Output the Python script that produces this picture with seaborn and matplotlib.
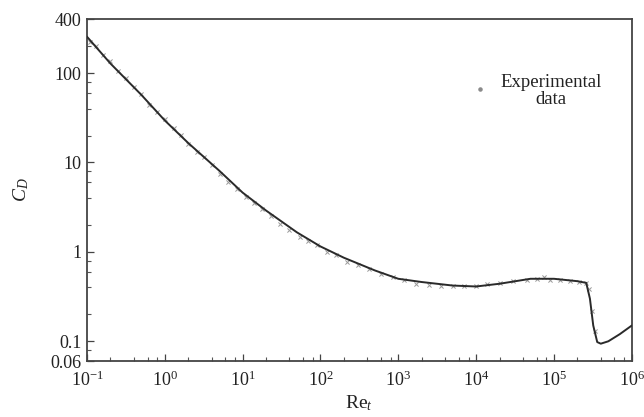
import numpy as np
import pandas as pd
import matplotlib
matplotlib.use("Agg")
import matplotlib.pyplot as plt
import matplotlib.ticker as mticker
import seaborn as sns

# Standard drag curve for a sphere: Reynolds number vs drag coefficient
re_curve = [0.1, 0.2, 0.5, 1, 2, 5, 10, 20, 50, 100, 200, 500, 1000, 2000,
            5000, 1e4, 2e4, 5e4, 1e5, 2e5, 2.6e5, 2.9e5, 3.2e5, 3.6e5, 4e5,
            5e5, 7e5, 1e6]
cd_curve = [255, 128, 57, 29.5, 16.5, 8.1, 4.6, 2.9, 1.65, 1.15, 0.86, 0.62,
            0.50, 0.46, 0.42, 0.41, 0.44, 0.50, 0.50, 0.47, 0.45, 0.30, 0.15,
            0.098, 0.094, 0.10, 0.12, 0.15]

# Measured points scattered about the curve
re_exp = [0.11, 0.13, 0.16, 0.2, 0.25, 0.32, 0.4, 0.5, 0.63, 0.8, 1.0, 1.3,
          1.6, 2.0, 2.6, 3.2, 4.0, 5.2, 6.5, 8.5, 11, 14, 18, 23, 30, 40, 55,
          70, 90, 120, 160, 220, 300, 420, 600, 850, 1200, 1700, 2500, 3500,
          5000, 7000, 1e4, 1.4e4, 2e4, 3e4, 4.5e4, 6e4, 7.5e4, 9e4, 1.2e5,
          1.6e5, 2.1e5, 2.6e5, 2.8e5, 3.1e5, 3.4e5]
cd_exp = [225, 200, 160, 135, 105, 88, 70, 58, 44, 37, 31, 24, 20.5, 16,
          13, 11.5, 9.3, 7.4, 6.1, 5.0, 4.1, 3.5, 3.0, 2.5, 2.05, 1.75, 1.48,
          1.32, 1.18, 1.0, 0.93, 0.78, 0.72, 0.64, 0.56, 0.52, 0.48, 0.44,
          0.43, 0.41, 0.42, 0.41, 0.42, 0.44, 0.45, 0.47, 0.49, 0.50, 0.53,
          0.49, 0.48, 0.47, 0.46, 0.45, 0.38, 0.22, 0.13]

x_ticks = [1e-1, 1e0, 1e1, 1e2, 1e3, 1e4, 1e5, 1e6]
x_tick_labels = [r"$10^{-1}$", r"$10^{0}$", r"$10^{1}$", r"$10^{2}$",
                 r"$10^{3}$", r"$10^{4}$", r"$10^{5}$", r"$10^{6}$"]
y_ticks = [0.06, 0.1, 1, 10, 100, 400]
y_tick_labels = ["0.06", "0.1", "1", "10", "100", "400"]

curve = pd.DataFrame({"Re": re_curve, "Cd": cd_curve})
exp = pd.DataFrame({"Re": re_exp, "Cd": cd_exp})

sns.set_style("ticks")
plt.rcParams["font.family"] = ["Liberation Serif", "DejaVu Serif"]
plt.rcParams["mathtext.fontset"] = "custom"
plt.rcParams["mathtext.rm"] = "Liberation Serif"
plt.rcParams["mathtext.it"] = "Liberation Serif:italic"

fig = plt.figure(figsize=(6.44, 4.17), dpi=100)
ax = fig.add_axes([0.135, 0.134, 0.846, 0.820])
ax.set_xscale("log")
ax.set_yscale("log")

sns.scatterplot(data=exp, x="Re", y="Cd", ax=ax, marker="x", s=9,
                color="#9a9a9a", linewidth=0.7, zorder=2)
sns.lineplot(data=curve, x="Re", y="Cd", ax=ax, color="#2a2a2a",
             linewidth=1.4, sort=False, zorder=3)

ax.set_xlim(0.1, 1e6)
ax.set_ylim(0.06, 400)

ax.xaxis.set_major_locator(mticker.FixedLocator(x_ticks))
ax.xaxis.set_major_formatter(mticker.FixedFormatter(x_tick_labels))
ax.xaxis.set_minor_locator(mticker.LogLocator(base=10, subs=(2, 4, 6, 8), numticks=20))
ax.xaxis.set_minor_formatter(mticker.NullFormatter())
ax.yaxis.set_major_locator(mticker.FixedLocator(y_ticks))
ax.yaxis.set_major_formatter(mticker.FixedFormatter(y_tick_labels))
ax.yaxis.set_minor_locator(mticker.LogLocator(base=10, subs=(2, 4, 6, 8), numticks=20))
ax.yaxis.set_minor_formatter(mticker.NullFormatter())

ax.tick_params(axis="both", which="major", direction="in", length=5,
               width=0.9, color="#444444", labelsize=13, labelcolor="#222222")
ax.tick_params(axis="y", which="major", pad=4)
ax.tick_params(axis="x", which="major", pad=7)
ax.tick_params(axis="both", which="minor", direction="in", length=3,
               width=0.8, color="#555555")

for side in ["top", "right", "left", "bottom"]:
    ax.spines[side].set_visible(True)
    ax.spines[side].set_linewidth(1.3)
    ax.spines[side].set_color("#444444")

ax.set_xlabel(r"$\mathrm{Re}_t$", fontsize=14, color="#222222", labelpad=2)
ax.set_ylabel(r"$C_D$", fontsize=14, color="#222222", labelpad=14)

# legend entry drawn by hand: marker and two-line label
ax.scatter([0.722], [0.795], transform=ax.transAxes, marker="o", s=5,
           color="#8a8a8a", clip_on=False)
ax.text(0.852, 0.79, "Experimental\ndata", transform=ax.transAxes,
        ha="center", va="center", multialignment="center", fontsize=13.5,
        color="#222222", linespacing=1.0)

fig.savefig("out.png", dpi=100)
